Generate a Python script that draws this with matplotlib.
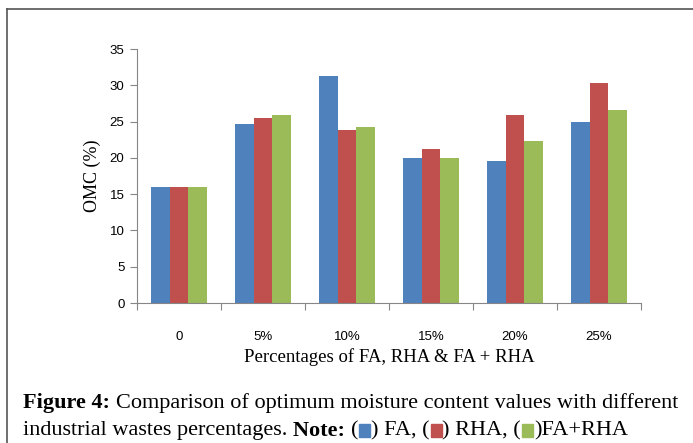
import matplotlib
matplotlib.use('Agg')
import matplotlib.pyplot as plt
from matplotlib.lines import Line2D
from matplotlib.patches import Rectangle
import numpy as np

categories = ['0', '5%', '10%', '15%', '20%', '25%']
fa = [16.0, 24.6, 31.3, 20.0, 19.6, 24.9]
rha = [16.0, 25.5, 23.9, 21.2, 25.9, 30.3]
fa_rha = [16.0, 25.9, 24.2, 20.0, 22.3, 26.6]
series = [('FA', fa, '#4F81BD'), ('RHA', rha, '#C0504D'), ('FA+RHA', fa_rha, '#9BBB59')]

fig = plt.figure(figsize=(6.93, 4.43), dpi=100)
ax = fig.add_axes([137/693, 1 - 303/443, 504/693, 254/443])

x = np.arange(len(categories))
w = 0.222
for i, (name, vals, col) in enumerate(series):
    ax.bar(x + (i - 1) * w, vals, w, color=col, edgecolor='none', label=name)

ax.set_xlim(-0.5, len(categories) - 0.5)
ax.set_ylim(0, 35)
ax.set_yticks(range(0, 36, 5))
ax.set_xticks(np.arange(-0.5, len(categories), 1.0))
ax.set_xticklabels([])
ax.set_xticks(x, minor=True)
ax.set_xticklabels(categories, minor=True, fontsize=9.5, family='Liberation Sans')
ax.tick_params(axis='x', which='major', length=5, color='#868686', direction='out')
ax.tick_params(axis='x', which='minor', length=0, pad=20)
ax.tick_params(axis='y', length=5, color='#868686', labelsize=9.5, pad=4)
for lab in ax.get_yticklabels():
    lab.set_family('Liberation Sans')
for s in ['top', 'right']:
    ax.spines[s].set_visible(False)
for s in ['left', 'bottom']:
    ax.spines[s].set_color('#868686')

ax.set_ylabel('OMC (%)', family='Liberation Serif', fontsize=13, labelpad=6)
ax.set_xlabel('Percentages of FA, RHA & FA + RHA', family='Liberation Serif', fontsize=13.5, labelpad=4)

# frame lines of the figure box
fig.add_artist(Line2D([7/693, 1], [1 - 9/443, 1 - 9/443], color='#555555', lw=1.2))
fig.add_artist(Line2D([7/693, 7/693], [0, 1 - 9/443], color='#555555', lw=1.2))

# caption
fs = 16.0
fig.text(23/693, 1 - 403/443, 'Figure 4:', family='Liberation Serif', fontsize=fs,
         weight='bold', va='center')
fig.text(116/693, 1 - 403/443, 'Comparison of optimum moisture content values with different',
         family='Liberation Serif', fontsize=fs, va='center')

fig.canvas.draw()
r = fig.canvas.get_renderer()
pieces = [('industrial wastes percentages. ', 'normal', None),
          ('Note: ', 'bold', None),
          ('(', 'normal', None), (None, None, '#4F81BD'), (') FA, (', 'normal', None),
          (None, None, '#C0504D'), (') RHA, (', 'normal', None),
          (None, None, '#9BBB59'), (')FA+RHA', 'normal', None)]
xp = 23
y2 = 431
for txt, wt, col in pieces:
    if txt is None:
        fig.add_artist(Rectangle(((xp + 1) / 693, 1 - (y2 + 6) / 443), 11 / 693, 13 / 443,
                                 transform=fig.transFigure, color=col))
        xp += 13
        continue
    t = fig.text(xp / 693, 1 - y2 / 443, txt, family='Liberation Serif', fontsize=fs,
                 weight=wt, va='center')
    bb = t.get_window_extent(renderer=r)
    xp += bb.width

fig.savefig('out.png', dpi=100)
